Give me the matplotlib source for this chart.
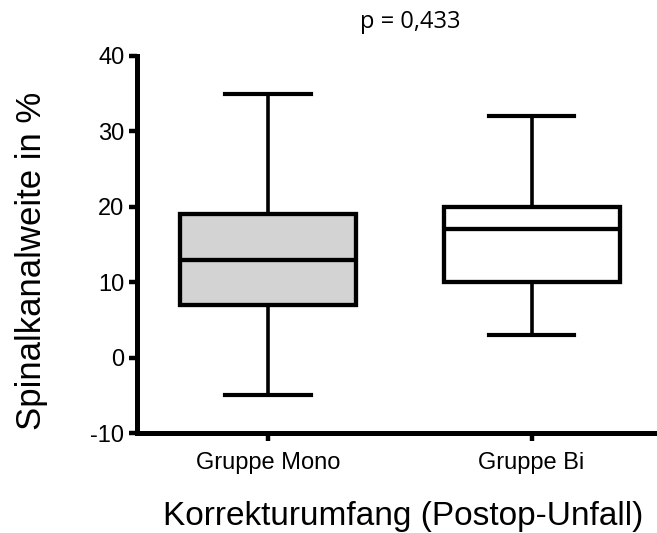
import matplotlib

matplotlib.use("Agg")
import matplotlib.pyplot as plt

# five-number summaries per group (whiskers = min/max)
groups = ["Gruppe Mono", "Gruppe Bi"]
whisker_low = [-5, 3]
q1 = [7, 10]
median = [13, 17]
q3 = [19, 20]
whisker_high = [35, 32]
box_colors = ["#d3d3d3", "#ffffff"]

p_text = "p = 0,433"

plt.rcParams["font.family"] = ["Liberation Sans", "DejaVu Sans"]
plt.rcParams["axes.unicode_minus"] = False

fig = plt.figure(figsize=(6.57, 5.33), dpi=100)
ax = fig.add_axes([0.2085, 0.1876, 0.7915, 0.7074])

stats = [
    {"label": g, "whislo": lo, "q1": a, "med": m, "q3": b, "whishi": hi}
    for g, lo, a, m, b, hi in zip(groups, whisker_low, q1, median, q3, whisker_high)
]
positions = [1, 2]
bp = ax.bxp(
    stats,
    positions=positions,
    widths=0.668,
    showfliers=False,
    patch_artist=True,
    boxprops=dict(linewidth=3.1, edgecolor="black"),
    medianprops=dict(linewidth=3.1, color="black"),
    whiskerprops=dict(linewidth=2.6, color="black"),
    capprops=dict(linewidth=3.0, color="black"),
    capwidths=0.325,
)
for patch, c in zip(bp["boxes"], box_colors):
    patch.set_facecolor(c)

ax.set_xlim(0.503, 2.476)
ax.set_ylim(-10, 40)
ax.set_yticks([-10, 0, 10, 20, 30, 40])
ax.set_xticks(positions)
ax.set_xticklabels(groups, fontsize=17)
ax.tick_params(axis="y", labelsize=17, width=3.2, length=6, pad=3)
ax.tick_params(axis="x", width=3.2, length=6, pad=8)

for side in ["top", "right"]:
    ax.spines[side].set_visible(False)
for side in ["left", "bottom"]:
    ax.spines[side].set_linewidth(3.6)

ax.set_ylabel("Spinalkanalweite in %", fontsize=25)
ax.yaxis.set_label_coords(-0.172, 0.456)
ax.set_xlabel("Korrekturumfang (Postop-Unfall)", fontsize=24, va="baseline")
ax.xaxis.set_label_coords(0.511, -0.244)

fig.text(0.624, 0.959, p_text, fontsize=17, family="Open Sans", ha="center", va="center")

fig.savefig("out.png", dpi=100)
